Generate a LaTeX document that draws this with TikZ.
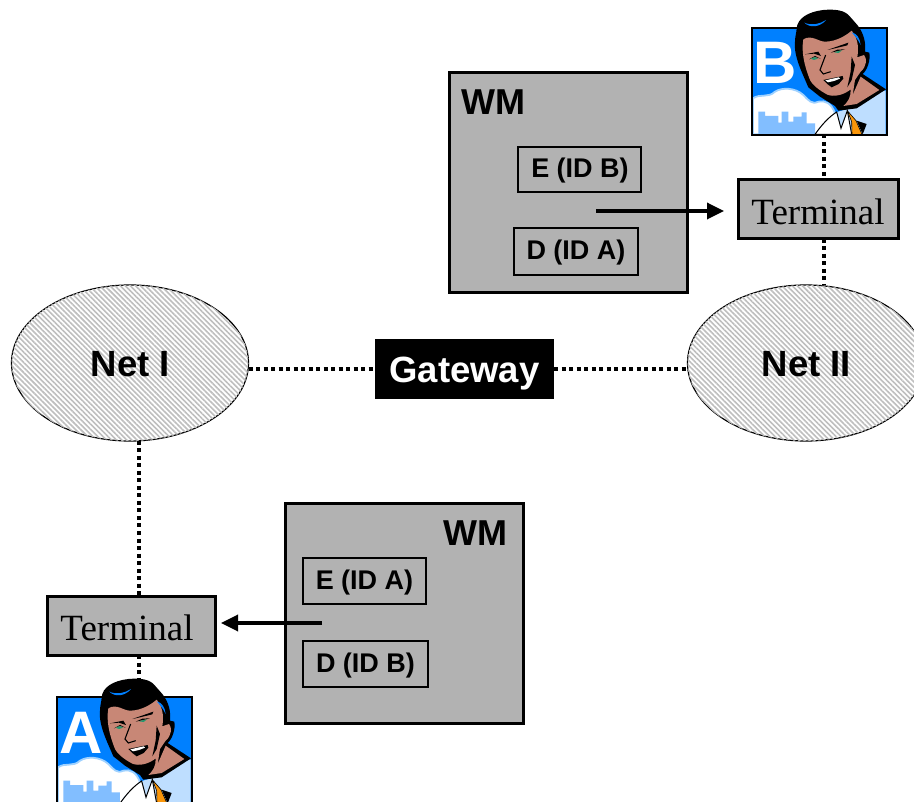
\documentclass[tikz,border=0pt]{standalone}
\usepackage{fontspec}
\setmainfont{Liberation Sans}
\newfontfamily\serifterm{Liberation Serif}
\usetikzlibrary{arrows.meta,patterns.meta,shapes.geometric}
\definecolor{wmgray}{RGB}{178,178,178}
\definecolor{skyblue}{RGB}{0,128,255}
\definecolor{cityblue}{RGB}{130,190,255}
\definecolor{cloudedge}{RGB}{160,210,255}
\definecolor{shirtblue}{RGB}{190,222,255}
\definecolor{skin}{RGB}{200,135,118}
\definecolor{tieorange}{RGB}{250,150,10}
\definecolor{eyegreen}{RGB}{40,150,110}
\definecolor{stripe}{RGB}{190,190,190}
\tikzset{
  wmbox/.style={draw=black,fill=wmgray,line width=3pt,inner sep=0pt,outer sep=0pt},
  keybox/.style={draw=black,fill=wmgray,line width=1.2pt,inner sep=0pt,outer sep=0pt},
  keytext/.style={inner sep=0pt,font=\fontsize{27}{30}\selectfont\bfseries},
  termbox/.style={draw=black,fill=wmgray,line width=3pt,inner sep=0pt,outer sep=0pt},
  termtext/.style={inner sep=0pt,font=\fontsize{37}{40}\selectfont\serifterm},
  gatebox/.style={fill=black,inner sep=0pt,outer sep=0pt},
  gatetext/.style={text=white,inner sep=0pt,font=\fontsize{36.5}{40}\selectfont\bfseries},
  netshape/.style={ellipse,draw=black,line width=1.2pt,inner sep=0pt,outer sep=0pt,minimum width=237pt,minimum height=156pt,
    fill=white,postaction={pattern={Lines[angle=-45,distance=3.6pt,line width=1.6pt]},pattern color=stripe}},
  nettext/.style={inner sep=0pt,font=\fontsize{36.5}{40}\selectfont\bfseries},
  wmlabel/.style={font=\fontsize{36}{40}\selectfont\bfseries,inner sep=0pt},
  dotline/.style={line width=4pt,dash pattern=on 4pt off 3.5pt},
  keyarrow/.style={line width=3.4pt,-{Triangle[length=17pt,width=16pt]}},
  photo/.style={fill=skyblue,inner sep=0pt,outer sep=0pt,minimum width=134pt,minimum height=106pt},
  initial/.style={text=white,inner sep=0pt,font=\fontsize{60}{60}\selectfont\bfseries}
}
% Man drawn in local coordinates, 3 units = 1 pixel
\newcommand{\manart}{%
  % cloud and city
  \fill[white,draw=cloudedge,line width=1.8pt] (39,295) .. controls (60,280) and (85,295) .. (105,275)
    .. controls (125,262) and (165,262) .. (190,285) .. controls (205,300) and (215,315) .. (235,305)
    .. controls (255,300) and (275,310) .. (285,340) -- (240,403) -- (39,403) -- cycle;
  \fill[cityblue] (55,403) -- (55,335) -- (75,335) -- (75,348) -- (115,348) -- (115,368) -- (125,368) -- (125,335)
    -- (145,335) -- (145,365) -- (160,365) -- (160,350) -- (185,350) -- (185,337) -- (200,337) -- (200,370)
    -- (225,370) -- (225,403) -- cycle;
  % shirt
  \fill[shirtblue] (224,403) .. controls (240,375) and (265,355) .. (295,335)
    -- (345,320) -- (432,272) -- (437,272) -- (437,403) -- cycle;
  % frame
  \draw[black,line width=2pt] (36,85) rectangle (440,404);
  % head, hair and neck in black
  \fill[black] (170,85) .. controls (172,55) and (205,35) .. (250,30) .. controls (285,27) and (315,30) .. (330,50)
    -- (352,75) .. controls (372,100) and (378,130) .. (375,155) -- (388,158) .. controls (392,180) and (382,210) .. (368,222)
    -- (438,268) -- (350,325) -- (295,332) -- (285,318) -- (240,290) -- (205,262)
    .. controls (190,225) and (160,170) .. (165,125) .. controls (165,110) and (170,95) .. (170,85) -- cycle;
  % skin of the face
  \fill[skin] (190,118) .. controls (215,103) and (235,125) .. (255,125) .. controls (290,125) and (320,105) .. (335,92)
    .. controls (350,110) and (358,135) .. (352,172) -- (372,165) .. controls (382,175) and (380,200) .. (362,215)
    -- (345,240) -- (338,285) -- (362,230) -- (418,270) -- (350,312) -- (310,318)
    .. controls (325,305) and (333,290) .. (332,268) .. controls (312,285) and (282,292) .. (262,284)
    .. controls (240,272) and (215,255) .. (208,235) .. controls (195,200) and (183,160) .. (190,118) -- cycle;
  % hair highlights
  \fill[skyblue] (193,68) .. controls (215,78) and (240,72) .. (258,60) .. controls (240,82) and (210,85) .. (193,68) -- cycle;
  \fill[skyblue] (335,97) .. controls (350,100) and (360,115) .. (362,135) .. controls (355,120) and (345,108) .. (335,97) -- cycle;
  % brows, eyes, nose, cheek, mouth
  \fill[black] (195,163) -- (235,155) -- (243,168) -- (222,161) -- cycle;
  \fill[black] (262,150) -- (325,128) -- (322,136) -- (285,145) -- cycle;
  \fill[black] (207,178) -- (225,168) -- (242,176) -- (225,171) -- cycle;
  \fill[eyegreen] (212,176) -- (225,171) -- (234,176) -- (222,180) -- cycle;
  \fill[black] (272,158) -- (292,149) -- (315,148) -- (295,153) -- cycle;
  \fill[eyegreen] (282,157) -- (295,153) -- (306,151) -- (296,159) -- cycle;
  \draw[black,line width=1.1pt] (257,165) -- (240,210) -- (250,222) -- (272,215);
  \fill[black] (335,170) -- (345,195) -- (335,240) -- (322,262) -- (332,215) -- cycle;
  \fill[black] (250,240) -- (308,228) -- (310,236) -- (296,252) -- (275,262) -- (262,252) -- cycle;
  \fill[white] (256,241) -- (296,232) -- (300,236) -- (282,243) -- (264,247) -- cycle;
  % collar and tie
  \fill[white,draw=black,line width=1pt] (225,403) .. controls (245,375) and (265,352) .. (290,336) -- (303,385) -- (322,332) -- (335,403) -- cycle;
  \fill[black] (350,362) -- (380,372) -- (368,403) -- cycle;
  \fill[tieorange,draw=black,line width=.6pt] (322,332) -- (348,362) -- (366,403) -- (336,403) -- (335,365) -- cycle;
  \draw[black,line width=2pt] (225,404) -- (440,404);
}
\begin{document}
\begin{tikzpicture}[x=1pt,y=-1pt]
\clip (0,0) rectangle (914,802);
% photo frames
\node[photo] (photoB) at (819.5,81.5) {};
\node[photo,minimum width=135pt] (photoA) at (125,750.5) {};
% networks
\node[netshape] (netI) at (130,363) {};
\node[nettext] (netIlabel) at (130.5,364) {Net I};
\node[netshape] (netII) at (806,363) {};
\node[nettext] (netIIlabel) at (806.5,364) {Net II};
\node[gatebox,minimum width=179pt,minimum height=60pt] (gateway) at (464.5,369) {};
\node[gatetext] (gatelabel) at (464.5,374) {Gateway};
% terminals
\node[termbox,minimum width=160pt,minimum height=59pt] (termB) at (818,209.5) {};
\node[termtext] (termBt) at (818,212) {Terminal};
\node[termbox,minimum width=168pt,minimum height=59pt] (termA) at (131.5,625.5) {};
\node[termtext] (termAt) at (127,628) {Terminal};
% WM upper
\node[wmbox,minimum width=238pt,minimum height=220pt] (wmU) at (568.5,183) {};
\node[wmlabel] (wmUt) at (493.5,102.5) {WM};
\node[keybox,minimum width=123pt,minimum height=45pt] (eU) at (579.5,169.5) {};
\node[keytext] (eUt) at (580,170.5) {E (ID B)};
\node[keybox,minimum width=124pt,minimum height=47pt] (dU) at (576,251.5) {};
\node[keytext] (dUt) at (576,253) {D (ID A)};
% WM lower
\node[wmbox,minimum width=238pt,minimum height=219pt] (wmL) at (404.5,613.5) {};
\node[wmlabel] (wmLt) at (475.5,533.5) {WM};
\node[keybox,minimum width=123pt,minimum height=46pt] (eL) at (364.5,581) {};
\node[keytext] (eLt) at (364.5,583) {E (ID A)};
\node[keybox,minimum width=125pt,minimum height=46pt] (dL) at (365.5,664) {};
\node[keytext] (dLt) at (365.5,665.5) {D (ID B)};
% arrows
\coordinate (startU) at (596,211);
\coordinate (endU) at (724,211);
\coordinate (startL) at (322,623);
\coordinate (endL) at (221,623);
\draw[keyarrow] (startU) -- (endU);
\draw[keyarrow] (startL) -- (endL);
% dotted links
\coordinate (xA) at (139,0);
\coordinate (xB) at (824,0);
\draw[dotline] (netI.east |- gateway.west) -- (gateway.west);
\draw[dotline] (gateway.east) -- (netII.west |- gateway.east);
\draw[dotline] (xA |- netI.south) -- (xA |- termA.north);
\draw[dotline] (xA |- termA.south) -- (xA |- photoA.north);
\draw[dotline] (xB |- photoB.south) -- (xB |- termB.north);
\draw[dotline] (xB |- termB.south) -- (xB |- netII.north);
% portraits
\begin{scope}[shift={(740,0)},x=0.33333pt,y=-0.33333pt]
  \manart
  \node[initial] (letterB) at (105,190) {B};
\end{scope}
\begin{scope}[shift={(45,669)},x=0.33333pt,y=-0.33333pt]
  \manart
  \node[initial] (letterA) at (107,191) {A};
\end{scope}
\end{tikzpicture}
\end{document}
